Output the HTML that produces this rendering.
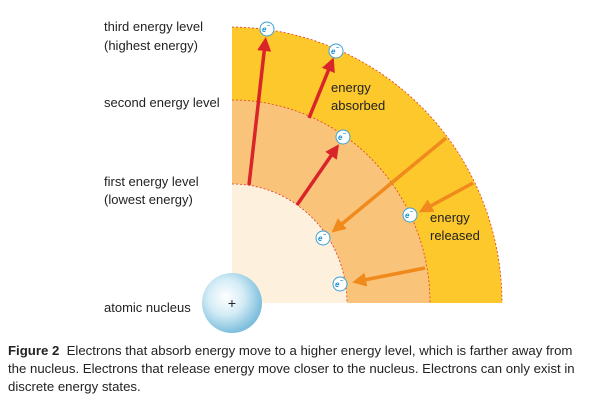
<!DOCTYPE html>
<html><head><meta charset="utf-8"><style>
body{margin:0;background:#fff;width:590px;height:401px;overflow:hidden;font-family:"Liberation Sans",sans-serif}
svg{position:absolute;left:0;top:0}
.cap{position:absolute;left:8px;top:342px;width:580px;font-size:13.2px;line-height:18px;color:#222;white-space:nowrap;letter-spacing:0px}
</style></head><body>
<svg width="590" height="340">
<defs>
<radialGradient id="nuc" cx="0.4" cy="0.4" r="0.6"><stop offset="0" stop-color="#fff"/><stop offset="0.5" stop-color="#d4ecf6"/><stop offset="1" stop-color="#7fbfdd"/></radialGradient>
<marker id="ah" markerWidth="4" markerHeight="4" refX="2" refY="2" orient="auto"><path d="M0,0L4,2L0,4z" fill="#d9252a"/></marker>
<marker id="ao" markerWidth="4" markerHeight="4" refX="2" refY="2" orient="auto"><path d="M0,0L4,2L0,4z" fill="#f08a1c"/></marker>
</defs>
<path d="M232,303 L232,27 A272,276 0 0 1 502,303 Z" fill="#fcc82c"/>
<path d="M232,27 A272,276 0 0 1 502,303" fill="none" stroke="#e03a2a" stroke-width="0.8" stroke-dasharray="2,2"/>
<path d="M232,303 L232,100 A198,203 0 0 1 430,303 Z" fill="#f9c47a"/>
<path d="M232,100 A198,203 0 0 1 430,303" fill="none" stroke="#e03a2a" stroke-width="0.8" stroke-dasharray="2,2"/>
<path d="M232,303 L232,184 A115,119 0 0 1 347,303 Z" fill="#fdf0dc"/>
<path d="M232,184 A115,119 0 0 1 347,303" fill="none" stroke="#e03a2a" stroke-width="0.8" stroke-dasharray="2,2"/>
<g stroke-width="3.5">
<line x1="249" y1="185" x2="265" y2="44" stroke="#d9252a" marker-end="url(#ah)"/>
<line x1="309" y1="118" x2="331" y2="64" stroke="#d9252a" marker-end="url(#ah)"/>
<line x1="297" y1="205" x2="335" y2="150" stroke="#d9252a" marker-end="url(#ah)"/>
<line x1="446" y1="138" x2="337" y2="228" stroke="#f08a1c" marker-end="url(#ao)"/>
<line x1="473" y1="183" x2="425" y2="209" stroke="#f08a1c" marker-end="url(#ao)"/>
<line x1="425" y1="268" x2="359" y2="281" stroke="#f08a1c" marker-end="url(#ao)"/>
</g>
<g font-size="8" font-style="italic" font-weight="bold" fill="#1a8fd0">
<g><circle cx="267" cy="29" r="7" fill="#fff" stroke="#3aa0d8"/><text x="262" y="32">e</text><text x="267" y="27" font-size="6">–</text></g>
<g><circle cx="336" cy="51" r="7" fill="#fff" stroke="#3aa0d8"/><text x="331" y="54">e</text><text x="336" y="49" font-size="6">–</text></g>
<g><circle cx="343" cy="137" r="7" fill="#fff" stroke="#3aa0d8"/><text x="338" y="140">e</text><text x="343" y="135" font-size="6">–</text></g>
<g><circle cx="410" cy="215" r="7" fill="#fff" stroke="#3aa0d8"/><text x="405" y="218">e</text><text x="410" y="213" font-size="6">–</text></g>
<g><circle cx="323" cy="238" r="7" fill="#fff" stroke="#3aa0d8"/><text x="318" y="241">e</text><text x="323" y="236" font-size="6">–</text></g>
<g><circle cx="340" cy="284" r="7" fill="#fff" stroke="#3aa0d8"/><text x="335" y="287">e</text><text x="340" y="282" font-size="6">–</text></g>
</g>
<circle cx="232" cy="303" r="30" fill="url(#nuc)"/>
<text x="232" y="308" font-size="14" text-anchor="middle" fill="#222">+</text>
<g font-size="13" fill="#222">
<text x="104" y="31">third energy level</text>
<text x="104" y="50">(highest energy)</text>
<text x="104" y="107">second energy level</text>
<text x="104" y="186">first energy level</text>
<text x="104" y="204">(lowest energy)</text>
<text x="104" y="312">atomic nucleus</text>
<text x="331" y="92">energy</text>
<text x="331" y="110">absorbed</text>
<text x="430" y="222">energy</text>
<text x="430" y="240">released</text>
</g>
</svg>
<div class="cap"><b>Figure 2</b>&nbsp; Electrons that absorb energy move to a higher energy level, which is farther away from<br>the nucleus. Electrons that release energy move closer to the nucleus. Electrons can only exist in<br>discrete energy states.</div>
</body></html>
